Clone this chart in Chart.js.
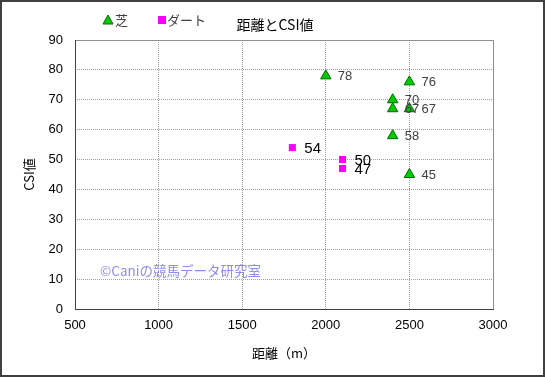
<!DOCTYPE html>
<html><head><meta charset="utf-8">
<script src="https://cdn.jsdelivr.net/npm/chart.js@4"></script>
<style>html,body{margin:0;padding:0;background:#fff}#wrap{width:545px;height:377px}</style>
</head><body><div id="wrap"><canvas id="c" width="545" height="377"></canvas></div>
<script>
const chartTitle = "距離とCSI値";
const xTitle = "距離（m）";
const yTitle = "CSI値";
const watermark = "©Caniの競馬データ研究室";
const seriesNames = ["芝", "ダート"];
const turfDist = [2000, 2500, 2400, 2400, 2500, 2400, 2500];
const turfCSI = [78, 76, 70, 67, 67, 58, 45];
const dirtDist = [1800, 2100, 2100];
const dirtCSI = [54, 50, 47];

const JP = '"Noto Sans CJK JP", "Noto Sans", sans-serif';
const NUM = '"Liberation Sans", Arial, sans-serif';

const decor = {
  id: 'decor',
  afterDatasetsDraw(chart) {
    const ctx = chart.ctx;
    ctx.save();
    chart.data.datasets.forEach((ds, i) => {
      const meta = chart.getDatasetMeta(i);
      ctx.font = i === 0 ? '13px ' + NUM : '15px ' + NUM;
      ctx.fillStyle = i === 0 ? '#404040' : '#000';
      ctx.textAlign = 'left';
      ctx.textBaseline = 'middle';
      meta.data.forEach((el, j) => {
        ctx.fillText(String(ds.data[j].y), el.x + 12, el.y + 1);
      });
    });
    const xs = chart.scales.x, ys = chart.scales.y;
    ctx.font = '13.5px ' + JP;
    ctx.fillStyle = '#8c8cee';
    ctx.textBaseline = 'middle';
    ctx.fillText(watermark, xs.getPixelForValue(650), ys.getPixelForValue(12.8));
    ctx.restore();
  },
  beforeDatasetsDraw(chart) {
    const ctx = chart.ctx, a = chart.chartArea;
    ctx.save();
    ctx.strokeStyle = '#909090';
    ctx.lineWidth = 1;
    ctx.strokeRect(Math.round(a.left) + 0.5, Math.round(a.top) + 0.5, Math.round(a.right - a.left), Math.round(a.bottom - a.top));
    ctx.strokeStyle = '#404040';
    ctx.beginPath();
    ctx.moveTo(Math.round(a.left) + 0.5, Math.round(a.top));
    ctx.lineTo(Math.round(a.left) + 0.5, Math.round(a.bottom) + 0.5);
    ctx.lineTo(Math.round(a.right) + 1, Math.round(a.bottom) + 0.5);
    ctx.stroke();
    ctx.restore();
  },
  afterDraw(chart) {
    const ctx = chart.ctx;
    ctx.save();
    ctx.font = '14px ' + JP;
    ctx.fillStyle = '#000';
    ctx.textAlign = 'center';
    ctx.textBaseline = 'middle';
    ctx.fillText(chartTitle, 275, 25);
    ctx.font = '13px ' + JP;
    ctx.textAlign = 'left';
    const ds = chart.data.datasets;
    ctx.beginPath();
    ctx.moveTo(108, 15); ctx.lineTo(113, 24); ctx.lineTo(103, 24); ctx.closePath();
    ctx.fillStyle = ds[0].backgroundColor; ctx.fill();
    ctx.strokeStyle = ds[0].borderColor; ctx.lineWidth = 1; ctx.stroke();
    ctx.fillStyle = '#404040';
    ctx.fillText(seriesNames[0], 115, 20);
    ctx.fillStyle = ds[1].backgroundColor;
    ctx.fillRect(158, 16, 8, 8);
    ctx.fillStyle = '#404040';
    ctx.fillText(seriesNames[1], 167, 20);
    ctx.strokeStyle = '#404040';
    ctx.lineWidth = 2;
    ctx.strokeRect(1, 1, 543, 375);
    ctx.restore();
  }
};

new Chart(document.getElementById('c'), {
  type: 'scatter',
  data: {
    datasets: [
      { label: seriesNames[0], data: turfDist.map((x, i) => ({x, y: turfCSI[i]})),
        pointStyle: 'triangle', pointRadius: 6, pointHoverRadius: 6,
        backgroundColor: '#00cc00', borderColor: '#006600', borderWidth: 1 },
      { label: seriesNames[1], data: dirtDist.map((x, i) => ({x, y: dirtCSI[i]})),
        pointStyle: 'rect', pointRadius: 5, pointHoverRadius: 5,
        backgroundColor: '#ff00ff', borderColor: '#ff00ff', borderWidth: 0 }
    ]
  },
  options: {
    responsive: false,
    animation: false,
    events: [],
    layout: { padding: { top: 40, right: 52, left: 0, bottom: 0 } },
    plugins: { legend: { display: false }, title: { display: false }, tooltip: { enabled: false } },
    scales: {
      x: {
        type: 'linear', min: 500, max: 3000,
        ticks: { stepSize: 500, color: '#000', font: { family: NUM, size: 13 }, padding: 9, maxRotation: 0,
                 callback: v => String(v) },
        grid: { color: '#a0a0a0', drawTicks: false },
        border: { display: false, dash: [1, 1] },
        title: { display: true, text: xTitle, color: '#000', font: { family: JP, size: 13 }, padding: { top: 16, bottom: 16 } },
        afterFit(s) { s.height = 68; }
      },
      y: {
        min: 0, max: 90,
        ticks: { stepSize: 10, color: '#000', font: { family: NUM, size: 13 }, padding: 12 },
        grid: { color: '#a0a0a0', drawTicks: false },
        border: { display: false, dash: [1, 1] },
        title: { display: true, text: yTitle, color: '#000', font: { family: JP, size: 13 }, padding: { top: 21, bottom: 21 } },
        afterFit(s) { s.width = 75; }
      }
    }
  },
  plugins: [decor]
});
</script>
</body></html>
